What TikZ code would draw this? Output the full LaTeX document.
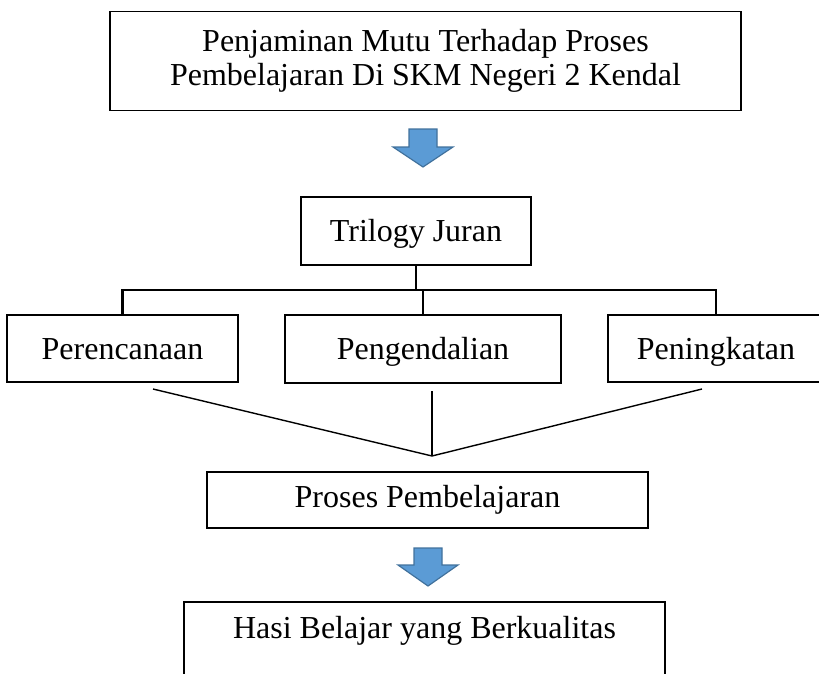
\documentclass[tikz,border=0pt]{standalone}
\usepackage{fontspec}
\setmainfont{Liberation Serif}
\definecolor{arrowfill}{HTML}{5B9BD5}
\definecolor{arrowedge}{HTML}{41719C}
\begin{document}
\begin{tikzpicture}[x=1pt,y=-1pt,
  box/.style={draw=black, line width=1.6pt, inner sep=0pt, font=\fontsize{32}{34}\selectfont},
  lowtext/.style={text height=24pt, text depth=3pt},
  thick tree/.style={line width=2.8pt, line join=miter},
  fan/.style={line width=1.4pt},
  blockarrow/.style={fill=arrowfill, draw=arrowedge, line width=1.2pt, line join=miter}
]
\useasboundingbox (0,0) rectangle (819,673);
\clip (0,0) rectangle (819,673);

% boxes
\node[box, minimum width=631pt, minimum height=99pt, align=center] (top) at (425.5,61)
  {Penjaminan Mutu Terhadap Proses\\Pembelajaran Di SKM Negeri 2 Kendal};
\node[box, lowtext, minimum width=230pt, minimum height=68pt] (tri) at (416,231) {Trilogy Juran};
\node[box, lowtext, minimum width=231pt, minimum height=67pt] (ren) at (122.5,348.5) {Perencanaan};
\node[box, lowtext, minimum width=276pt, minimum height=68pt] (ken) at (423,349) {Pengendalian};
\node[box, lowtext, minimum width=216pt, minimum height=67pt] (tin) at (716,348.5) {Peningkatan};
\node[box, minimum width=441pt, minimum height=56pt] (pro) at (427.5,500) {Proses Pembelajaran};
\node[box, minimum width=481pt, minimum height=100pt, anchor=north] (has) at (424.5,601) {};
\node[font=\fontsize{32}{34}\selectfont] (hastext) at (424.5,631) {Hasi Belajar yang Berkualitas};

% block arrows
\draw[blockarrow] (409,129) -- (437,129) -- (437,147) -- (453,147) -- (423,167)
  -- (393,147) -- (409,147) -- cycle;
\draw[blockarrow] (414,548) -- (442,548) -- (442,565) -- (458,565) -- (428,586)
  -- (398,565) -- (414,565) -- cycle;

% tree under Trilogy Juran
\coordinate (j) at (416,290);
\draw[thick tree] (tri.south) -- (j);
\draw[thick tree] (ren.north) -- (ren.north |- j) -- (tin.north |- j) -- (tin.north);
\draw[thick tree] (ken.north |- j) -- (ken.north);

% lines gathering into Proses Pembelajaran
\coordinate (m) at (432,456);
\coordinate (fl) at (153,389);
\coordinate (fr) at (702,389);
\coordinate (fc) at (432,391);
\draw[fan] (fl) -- (m) -- (fr);
\draw[fan] (fc) -- (m);
\end{tikzpicture}
\end{document}
